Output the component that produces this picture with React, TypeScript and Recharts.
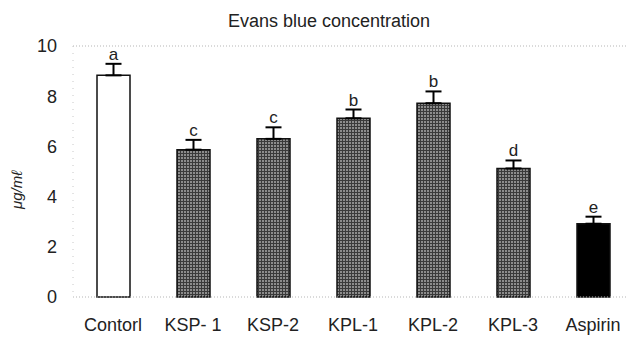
import React from 'react';
import { BarChart, Bar, XAxis, YAxis, ErrorBar, Cell, LabelList, ReferenceLine } from 'recharts';

const categories = ['Contorl', 'KSP- 1', 'KSP-2', 'KPL-1', 'KPL-2', 'KPL-3', 'Aspirin'];
const values = [8.83, 5.87, 6.3, 7.12, 7.72, 5.12, 2.92];
const errors = [0.46, 0.39, 0.46, 0.35, 0.47, 0.32, 0.28];
const letters = ['a', 'c', 'c', 'b', 'b', 'd', 'e'];
const yTicks = [0, 2, 4, 6, 8, 10];
const fills = ['#ffffff', 'url(#hatch)', 'url(#hatch)', 'url(#hatch)', 'url(#hatch)', 'url(#hatch)', '#000000'];

const data = categories.map((c, i) => ({ name: c, value: values[i], err: [0, errors[i]], letter: letters[i] }));

const FONT = '"Liberation Sans", Arial, sans-serif';

const LetterLabel = (props: any) => {
  const { x, y, width, height, index } = props;
  const v = values[index];
  const pxPerUnit = height / v;
  const top = y - errors[index] * pxPerUnit;
  return (
    <text x={x + width / 2} y={top - 4} textAnchor="middle" fontSize={17} fontFamily={FONT} fill="#222">
      {letters[index]}
    </text>
  );
};

export default function App() {
  return (
    <div style={{ position: 'absolute', left: 0, top: 0, width: 626, height: 363, background: '#fff' }}>
      <div style={{ position: 'absolute', left: 0, width: 626, top: 10, textAlign: 'center', fontFamily: FONT, fontSize: 18, color: '#222', lineHeight: '22px', paddingLeft: 32, boxSizing: 'border-box' }}>
        Evans blue concentration
      </div>
      <BarChart width={626} height={363} data={data} margin={{ top: 46, right: 0, bottom: 36, left: 0 }}>
        <defs>
          <pattern id="hatch" width="3" height="3" patternUnits="userSpaceOnUse">
            <rect width="3" height="3" fill="#8c8c8c" />
            <path d="M0 0.5 H3 M0.5 0 V3" stroke="#3a3a3a" strokeWidth="1" />
          </pattern>
        </defs>
        <ReferenceLine y={10} stroke="#b5b5b5" strokeDasharray="1 2" />
        <ReferenceLine y={0} stroke="#b5b5b5" strokeDasharray="1 2" />
        <XAxis
          dataKey="name"
          axisLine={false}
          tickLine={false}
          tickSize={0}
          tickMargin={21}
          padding={{ left: 0, right: -7 }}
          tick={{ fontSize: 18, fontFamily: FONT, fill: '#222' }}
          interval={0}
        />
        <YAxis
          width={73}
          domain={[0, 10]}
          ticks={yTicks}
          axisLine={{ stroke: '#c8c8c8', strokeDasharray: '1 6' }}
          tickLine={false}
          tickSize={0}
          tickMargin={16}
          tick={{ fontSize: 18, fontFamily: FONT, fill: '#222' }}
          label={{
            content: () => (
              <text x={22} y={190} transform="rotate(-90 22 190)" textAnchor="middle" fontSize={15} fontStyle="italic" fontFamily={FONT} fill="#222">
                μg/mℓ
              </text>
            ),
          }}
        />
        <Bar dataKey="value" barSize={33} stroke="#111" strokeWidth={1.5} isAnimationActive={false}>
          {data.map((d, i) => (
            <Cell key={d.name} fill={fills[i]} />
          ))}
          <ErrorBar dataKey="err" direction="y" width={8} stroke="#000" strokeWidth={2} />
          <LabelList dataKey="letter" content={LetterLabel} />
        </Bar>
      </BarChart>
    </div>
  );
}
